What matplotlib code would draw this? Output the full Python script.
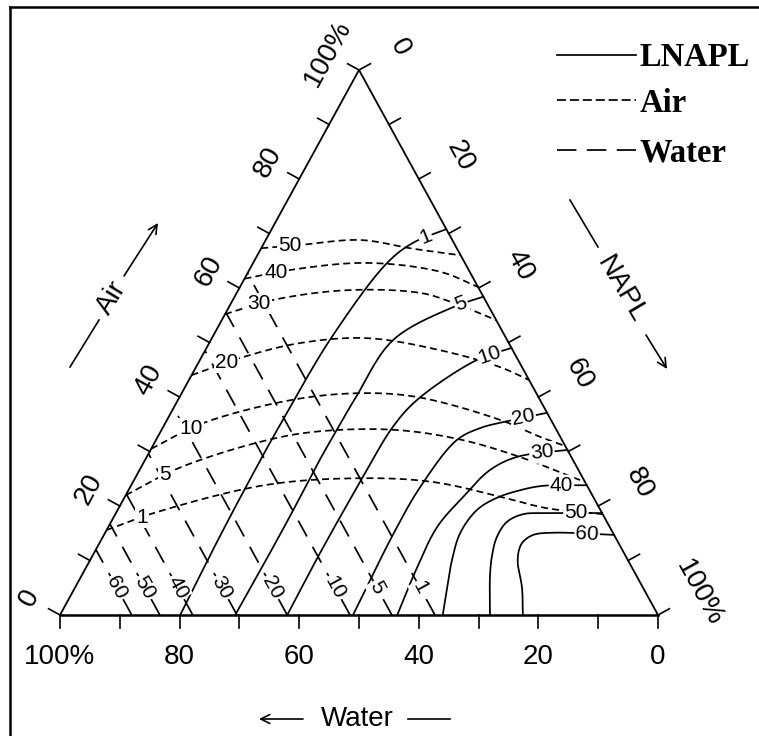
import numpy as np
import matplotlib
matplotlib.use("Agg")
import matplotlib.pyplot as plt
from matplotlib.lines import Line2D
from matplotlib.patches import FancyArrowPatch

plt.rcParams['font.family'] = ['Liberation Sans', 'DejaVu Sans']
plt.rcParams['lines.scale_dashes'] = False

# ---------------------------------------------------------------- data
tick_values = list(range(0, 101, 10))
label_values = [0, 20, 40, 60, 80, 100]

# water relative permeability contours: constant water saturation (%)
water_levels = [60, 50, 40, 30, 20, 10, 5, 1]
water_sat = [88.0, 83.3, 77.8, 70.4, 62.0, 51.5, 44.5, 37.3]

# air relative permeability contours: (NAPL %, Air %) along each curve
air_levels = [50, 40, 30, 20, 10, 5, 1]
air_napl = [
    [0, 6.2, 15.8, 25.5, 34.0],
    [0, 6.8, 19.0, 32.0, 39.8],
    [0, 6.7, 18.2, 30.7, 36.8, 45.9],
    [0, 6.9, 15.2, 25.9, 39.2, 50.8, 56.9],
    [0, 6.3, 19.2, 29.8, 39.7, 55.7, 63.9, 69.0],
    [0, 6.8, 20.0, 28.7, 39.9, 51.3, 62.4, 71.9, 75.6],
    [0, 6.8, 22.7, 38.1, 50.2, 62.8, 71.6, 81.5],
]
air_air = [
    [67.3, 67.9, 68.8, 67.2, 66.0],
    [61.7, 63.3, 64.6, 63.0, 60.2],
    [55.2, 57.8, 59.6, 59.1, 57.4, 54.1],
    [44.0, 47.3, 49.9, 50.8, 48.6, 45.5, 43.1],
    [30.5, 35.2, 39.5, 40.7, 40.0, 35.8, 32.7, 31.0],
    [22.0, 27.2, 32.5, 33.9, 33.9, 32.1, 29.0, 25.7, 24.4],
    [15.6, 18.9, 23.9, 25.1, 24.4, 21.7, 19.6, 18.5],
]

# LNAPL relative permeability contours: (NAPL %, Air %) along each curve
lnapl_levels = [1, 5, 10, 20, 30, 40, 50, 60]
lnapl_napl = [
    [20.1, 19.5, 19.3, 19.4, 19.9, 22.4, 24.9, 29.2],
    [29.3, 29.4, 29.4, 29.2, 29.3, 29.5, 30.5, 37.5, 41.6],
    [38.0, 37.8, 38.0, 38.4, 40.0, 46.3, 51.0],
    [49.0, 48.3, 48.5, 50.3, 53.1, 56.4, 62.9],
    [56.4, 55.4, 55.0, 56.6, 58.6, 61.9, 69.7],
    [64.0, 62.2, 60.5, 59.4, 60.1, 62.3, 65.5, 68.9, 76.2],
    [71.9, 68.4, 66.9, 65.9, 66.2, 68.2, 71.4, 81.3],
    [77.4, 74.7, 71.8, 70.8, 70.7, 71.8, 74.9, 85.3],
]
lnapl_air = [
    [0, 15.0, 29.4, 37.1, 50.5, 64.6, 68.3, 70.8],
    [0, 8.8, 18.0, 27.9, 33.9, 40.0, 50.5, 56.5, 58.4],
    [0, 11.6, 25.3, 34.5, 39.5, 46.8, 49.0],
    [0, 15.2, 23.5, 32.1, 34.3, 35.4, 37.1],
    [0, 8.3, 16.2, 21.7, 26.6, 29.0, 30.3],
    [0, 5.1, 10.1, 15.1, 19.3, 21.5, 22.9, 23.7, 23.8],
    [0, 7.0, 10.6, 14.3, 17.1, 18.5, 18.7, 18.7],
    [0, 5.1, 9.5, 11.9, 13.4, 14.7, 15.1, 14.7],
]

# ---------------------------------------------------------------- helpers
W, H = 759, 736


def cart(napl, air):
    napl = np.asarray(napl, float)
    air = np.asarray(air, float)
    return napl + air / 2.0, air


def smooth(xs, ys, n=30):
    """Centripetal Catmull-Rom curve through the given points."""
    P = np.column_stack([xs, ys])
    if len(P) < 3:
        return P
    P = np.vstack([2 * P[0] - P[1], P, 2 * P[-1] - P[-2]])
    out = []
    for i in range(1, len(P) - 2):
        p0, p1, p2, p3 = P[i - 1], P[i], P[i + 1], P[i + 2]
        t0 = 0.0
        t1 = t0 + max(np.linalg.norm(p1 - p0), 1e-6) ** 0.5
        t2 = t1 + max(np.linalg.norm(p2 - p1), 1e-6) ** 0.5
        t3 = t2 + max(np.linalg.norm(p3 - p2), 1e-6) ** 0.5
        t = np.linspace(t1, t2, n)[:, None]
        A1 = (t1 - t) / (t1 - t0) * p0 + (t - t0) / (t1 - t0) * p1
        A2 = (t2 - t) / (t2 - t1) * p1 + (t - t1) / (t2 - t1) * p2
        A3 = (t3 - t) / (t3 - t2) * p2 + (t - t2) / (t3 - t2) * p3
        B1 = (t2 - t) / (t2 - t0) * A1 + (t - t0) / (t2 - t0) * A2
        B2 = (t3 - t) / (t3 - t1) * A2 + (t - t1) / (t3 - t1) * A3
        C = (t2 - t) / (t2 - t1) * B1 + (t - t1) / (t2 - t1) * B2
        out.append(C if i == len(P) - 3 else C[:-1])
    return np.vstack(out)


def fxy(px, py):
    return px / W, 1 - py / H


# ---------------------------------------------------------------- figure
fig = plt.figure(figsize=(W / 100, H / 100), dpi=100)
ax = fig.add_axes([60 / W, 1 - 615 / H, 598 / W, 545 / H])
ax.set_xlim(0, 100)
ax.set_ylim(0, 100)
ax.axis('off')

D = ax.transData
Dinv = D.inverted()


def shifted(x, y, dx, dy):
    px, py = D.transform((x, y))
    return Dinv.transform((px + dx, py + dy))


def unit(v):
    v = np.asarray(v, float)
    return v / np.linalg.norm(v)


u_left = unit(D.transform((50, 100)) - D.transform((0, 0)))
u_right = unit(D.transform((100, 0)) - D.transform((50, 100)))
n_left = np.array([-u_left[1], u_left[0]])
n_right = np.array([-u_right[1], u_right[0]])
ang_left = np.degrees(np.arctan2(u_left[1], u_left[0]))
ang_right = np.degrees(np.arctan2(u_right[1], u_right[0]))

# triangle
ax.plot([0, 50, 100], [0, 100, 0], color='black', lw=1.3, clip_on=False,
        solid_joinstyle='miter', zorder=4)
ax.plot([0, 100], [0, 0], color='black', lw=1.8, clip_on=False, zorder=4)

TICK = 13
tick_font = dict(fontsize=20, color='black')
for v in tick_values:
    # bottom axis: water
    x0, y0 = 100 - v, 0
    x1, y1 = shifted(x0, y0, 0, -TICK)
    ax.plot([x0, x1], [y0, y1], color='black', lw=1.2, clip_on=False)
    # left axis: air
    x0, y0 = cart(0, v)
    x1, y1 = shifted(float(x0), float(y0), *(n_left * TICK))
    ax.plot([x0, x1], [y0, y1], color='black', lw=1.2, clip_on=False)
    # right axis: NAPL
    x0, y0 = cart(v, 100 - v)
    x1, y1 = shifted(float(x0), float(y0), *(n_right * TICK))
    ax.plot([x0, x1], [y0, y1], color='black', lw=1.2, clip_on=False)

for v in label_values:
    txt = '100%' if v == 100 else str(v)
    x, y = shifted(100 - v, 0, 0, -42)
    ax.text(x, y, txt, ha='center', va='center', **tick_font)
    x0, y0 = cart(0, v)
    x, y = shifted(float(x0), float(y0), *(n_left * 35))
    ax.text(x, y, txt, ha='center', va='center', rotation=ang_left,
            rotation_mode='anchor', **tick_font)
    x0, y0 = cart(v, 100 - v)
    x, y = shifted(float(x0), float(y0), *(n_right * 47))
    ax.text(x, y, txt, ha='center', va='center', rotation=ang_right,
            rotation_mode='anchor', **tick_font)

LW = 1.25
AIR_DASH = (5.0, 3.0)
WATER_DASH = (13.0, 8.5)
lab_font = dict(fontsize=15, color='black', ha='center', va='center',
                rotation_mode='anchor', zorder=6,
                bbox=dict(boxstyle='square,pad=0.05', fc='white', ec='none'))

# water contours
for lvl, w in zip(water_levels, water_sat):
    xa, ya = cart(100 - w, 0)
    xb, yb = cart(0, 100 - w)
    ax.plot([xa, xb], [ya, yb], color='black', lw=LW, dashes=WATER_DASH,
            zorder=2)
    lx, ly = cart(100 - w - 5.1, 5.1)
    pa = D.transform((float(xa), float(ya)))
    pb = D.transform((float(xb), float(yb)))
    ang = np.degrees(np.arctan2(pb[1] - pa[1], pb[0] - pa[0]))
    if ang > 90:
        ang -= 180
    ax.text(lx, ly, str(lvl), rotation=ang, **lab_font)

# air contours
for lvl, nn, aa in zip(air_levels, air_napl, air_air):
    X, Y = cart(nn, aa)
    C = smooth(X, Y)
    ax.plot(C[:, 0], C[:, 1], color='black', lw=LW, dashes=AIR_DASH, zorder=2)
    napl_c = C[:, 0] - C[:, 1] / 2
    half = len(C) // 2
    idx = int(np.argmin(np.abs(napl_c[:half] - 4.7)))
    ax.text(C[idx, 0], C[idx, 1], str(lvl), rotation=0, **lab_font)

# LNAPL contours
for lvl, nn, aa in zip(lnapl_levels, lnapl_napl, lnapl_air):
    X, Y = cart(nn, aa)
    C = smooth(X, Y)
    ax.plot(C[:, 0], C[:, 1], color='black', lw=LW, zorder=3)
    water_c = 100 - C[:, 0] - C[:, 1] / 2
    idx = int(np.where(water_c >= 4.2)[0][-1])
    i0, i1 = max(idx - 4, 0), min(idx + 4, len(C) - 1)
    p0 = D.transform(C[i0])
    p1 = D.transform(C[i1])
    ang = np.degrees(np.arctan2(p1[1] - p0[1], p1[0] - p0[0]))
    ax.text(C[idx, 0], C[idx, 1], str(lvl), rotation=ang, **lab_font)

# axis titles with arrows
title_font = dict(fontsize=20, color='black', ha='center', va='center',
                  rotation_mode='anchor')


def seg(p, q, arrow=False):
    if arrow:
        fig.add_artist(FancyArrowPatch(fxy(*p), fxy(*q), transform=fig.transFigure,
                                       arrowstyle='->', mutation_scale=16,
                                       lw=1.2, color='black',
                                       shrinkA=0, shrinkB=0))
    else:
        fig.add_artist(Line2D([fxy(*p)[0], fxy(*q)[0]], [fxy(*p)[1], fxy(*q)[1]],
                              transform=fig.transFigure, lw=1.2, color='black'))


seg((70, 367), (99, 320))
seg((124, 276), (158, 223), arrow=True)
fig.text(*fxy(112, 298), 'Air', rotation=58.5, **title_font)

seg((570, 200), (598, 247))
seg((646, 335), (667, 369), arrow=True)
fig.text(*fxy(621, 290), 'NAPL', rotation=-59.5, **title_font)

seg((303, 719), (259, 719), arrow=True)
fig.text(357 / W, 1 - 719 / H, 'Water', fontsize=20, color='black',
         ha='center', va='center')
seg((408, 719), (450, 719))

# legend
leg_font = dict(fontsize=23.5, family=['Liberation Serif', 'DejaVu Serif'],
                weight='bold', ha='left', va='baseline', color='black')
for (y, label, dash) in [(55, 'LNAPL', None), (100, 'Air', (6.5, 2.8)),
                         (150, 'Water', (14.0, 7.5))]:
    ln = Line2D([557 / W, 636 / W], [1 - y / H, 1 - y / H],
                transform=fig.transFigure, lw=LW, color='black')
    if dash is not None:
        ln.set_dashes(dash)
    fig.add_artist(ln)
    fig.text(640 / W, 1 - (y + 11.5) / H, label, **leg_font)

# outer frame (left and top edges)
fig.add_artist(Line2D([10 / W, 10 / W], [1 - 7 / H, 0], transform=fig.transFigure,
                      lw=1.8, color='black'))
fig.add_artist(Line2D([10 / W, 1], [1 - 7 / H, 1 - 7 / H], transform=fig.transFigure,
                      lw=1.8, color='black'))

fig.savefig('out.png', dpi=100, facecolor='white')
